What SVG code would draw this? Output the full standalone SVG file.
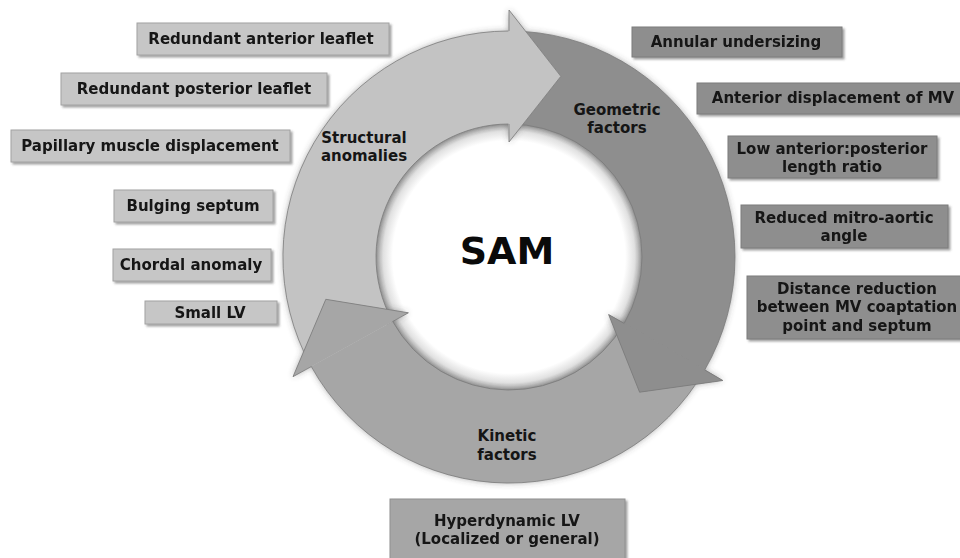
<svg xmlns="http://www.w3.org/2000/svg" width="960" height="558" viewBox="0 0 960 558">
<defs>
<style>
.t{font-family:"DejaVu Sans","Verdana",sans-serif;font-weight:bold;font-size:15px;fill:#151515;text-anchor:middle}
.lt{fill:#c6c6c6;stroke:#a2a2a2;stroke-width:1}
.dk{fill:#8e8e8e;stroke:#7c7c7c;stroke-width:1}
.md{fill:#a6a6a6;stroke:#909090;stroke-width:1}
.edge{fill:none;stroke:#7a7a7a;stroke-width:0.8;stroke-linejoin:miter}
.sL{fill:#c3c3c3}
.sD{fill:#8e8e8e}
.sM{fill:#a6a6a6}
</style>
<filter id="bs" x="-10%" y="-20%" width="130%" height="160%">
<feDropShadow dx="2" dy="2" stdDeviation="1.2" flood-color="#555" flood-opacity="0.55"/>
</filter>
<filter id="rs" x="-20%" y="-20%" width="140%" height="140%">
<feDropShadow dx="0" dy="0" stdDeviation="3" flood-color="#444" flood-opacity="0.45"/>
</filter>
<radialGradient id="inner" cx="509" cy="257" r="140" gradientUnits="userSpaceOnUse">
<stop offset="0" stop-color="#ffffff"/>
<stop offset="0.83" stop-color="#ffffff"/>
<stop offset="0.9" stop-color="#e0e0e0"/>
<stop offset="0.95" stop-color="#a4a4a4"/>
<stop offset="1" stop-color="#999999"/>
</radialGradient>
</defs>
<rect width="960" height="558" fill="#ffffff"/>

<g id="ring">
<circle cx="509" cy="257" r="140" fill="url(#inner)"/>
<g filter="url(#rs)">
<path class="sL" d="M311.3 366.6 A226 226 0 0 1 509 31 L509 124 A133 133 0 0 0 392.7 321.5 Z"/>
<path class="sD" d="M509 31 A226 226 0 0 1 704.7 370 L624.2 323.5 A133 133 0 0 0 509 124 Z"/>
<path class="sM" d="M704.7 370 A226 226 0 0 1 311.3 366.6 L392.7 321.5 A133 133 0 0 0 624.2 323.5 Z"/>
<path class="sL" d="M508.4 31 L509 10 L560.8 76.3 L509 142 L508.4 124 Z"/>
<path class="sD" d="M704.2 369.2 L722.9 380.5 L639.6 392.2 L608.6 314.5 L623.7 322.7 Z"/>
<path class="sM" d="M311.7 365.9 L293 376.7 L325.8 299.3 L408.4 312.8 L393 321 Z"/>
</g>
<path class="edge" d="M311.3 366.6 A226 226 0 0 1 509 31"/>
<path class="edge" d="M509 31 A226 226 0 0 1 704.7 370"/>
<path class="edge" d="M704.7 370 A226 226 0 0 1 311.3 366.6"/>
<path class="edge" d="M509 124 A133 133 0 0 0 392.7 321.5"/>
<path class="edge" d="M624.2 323.5 A133 133 0 0 0 509 124"/>
<path class="edge" d="M392.7 321.5 A133 133 0 0 0 624.2 323.5"/>
<path class="sL" d="M508.4 31 L509 10 L560.8 76.3 L509 142 L508.4 124 Z"/>
<path class="sD" d="M704.2 369.2 L722.9 380.5 L639.6 392.2 L608.6 314.5 L623.7 322.7 Z"/>
<path class="sM" d="M311.7 365.9 L293 376.7 L325.8 299.3 L408.4 312.8 L393 321 Z"/>
<path class="edge" d="M509 31 L509 10 L560.8 76.3 L509 142 L509 124"/>
<path class="edge" d="M704.7 370 L722.9 380.5 L639.6 392.2 L608.6 314.5 L624.2 323.5"/>
<path class="edge" d="M311.3 366.6 L293 376.7 L325.8 299.3 L408.4 312.8 L392.7 321.5"/>
</g>

<g id="sam"><text x="507" y="264" style="font-family:'DejaVu Sans',sans-serif;font-weight:bold;font-size:38px;fill:#0a0a0a;text-anchor:middle">SAM</text></g>

<g id="lbl-structural"><text class="t" x="364" y="143">Structural</text><text class="t" x="364" y="161">anomalies</text></g>
<g id="lbl-geometric"><text class="t" x="617" y="115">Geometric</text><text class="t" x="617" y="133">factors</text></g>
<g id="lbl-kinetic"><text class="t" x="507" y="441">Kinetic</text><text class="t" x="507" y="460">factors</text></g>

<g id="n1" filter="url(#bs)"><rect class="lt" x="137" y="23" width="252" height="32"/><text class="t" x="261" y="44">Redundant anterior leaflet</text></g>
<g id="n2" filter="url(#bs)"><rect class="lt" x="61" y="73" width="266" height="32"/><text class="t" x="194" y="94">Redundant posterior leaflet</text></g>
<g id="n3" filter="url(#bs)"><rect class="lt" x="11" y="130" width="279" height="32"/><text class="t" x="150" y="151">Papillary muscle displacement</text></g>
<g id="n4" filter="url(#bs)"><rect class="lt" x="114" y="190" width="159" height="32"/><text class="t" x="193" y="211">Bulging septum</text></g>
<g id="n5" filter="url(#bs)"><rect class="lt" x="113" y="249" width="158" height="32"/><text class="t" x="191" y="270">Chordal anomaly</text></g>
<g id="n6" filter="url(#bs)"><rect class="lt" x="145" y="301" width="132" height="23"/><text class="t" x="210" y="318">Small LV</text></g>

<g id="n7" filter="url(#bs)"><rect class="dk" x="632" y="27" width="210" height="30"/><text class="t" x="736" y="47">Annular undersizing</text></g>
<g id="n8" filter="url(#bs)"><rect class="dk" x="697" y="83" width="270" height="31"/><text class="t" x="833" y="103">Anterior displacement of MV</text></g>
<g id="n9" filter="url(#bs)"><rect class="dk" x="728" y="136" width="209" height="42"/><text class="t" x="832" y="154">Low anterior:posterior</text><text class="t" x="832" y="172">length ratio</text></g>
<g id="n10" filter="url(#bs)"><rect class="dk" x="741" y="205" width="207" height="43"/><text class="t" x="844" y="223">Reduced mitro-aortic</text><text class="t" x="844" y="241">angle</text></g>
<g id="n11" filter="url(#bs)"><rect class="dk" x="747" y="276" width="220" height="63"/><text class="t" x="857" y="294">Distance reduction</text><text class="t" x="857" y="312">between MV coaptation</text><text class="t" x="857" y="331">point and septum</text></g>

<g id="n12" filter="url(#bs)"><rect class="md" x="390" y="499" width="235" height="65"/><text class="t" x="507" y="526">Hyperdynamic LV</text><text class="t" x="507" y="544">(Localized or general)</text></g>
</svg>
